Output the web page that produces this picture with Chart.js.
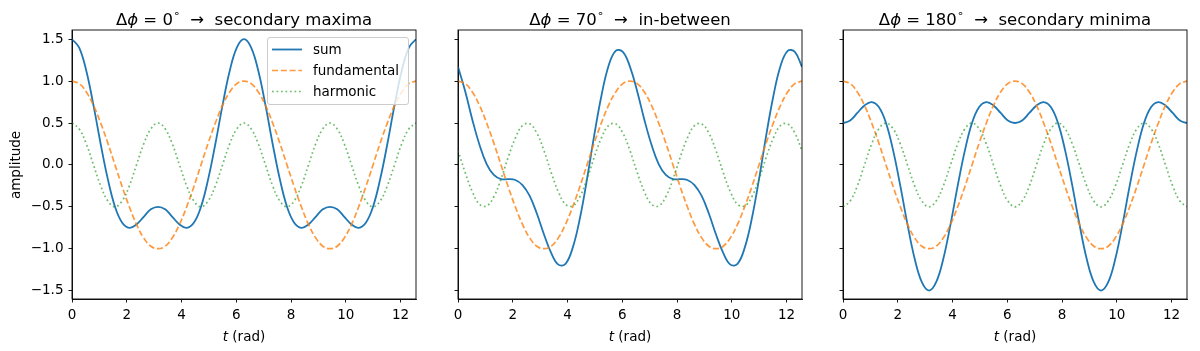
<!DOCTYPE html>
<html>
<head>
<meta charset="utf-8">
<script src="https://cdn.jsdelivr.net/npm/chart.js@4.4.1/dist/chart.umd.min.js"></script>
<style>
  html, body { margin:0; padding:0; background:#fff; }
  #wrap { position:relative; width:1200px; height:351px; overflow:hidden; font-family:"DejaVu Sans", sans-serif; color:#000; }
  #wrap canvas { position:absolute; top:0; }
  .ttl { position:absolute; top:5px; height:20px; line-height:20px; font-size:16.5px; text-align:center; white-space:pre; }
  .ttl sup { font-size:11px; position:relative; top:-1px; }
  .xl { position:absolute; top:328px; height:16px; line-height:16px; font-size:13.5px; text-align:center; white-space:pre; }
  .yl { position:absolute; left:-35px; top:157px; width:100px; height:16px; line-height:16px; font-size:13.5px; text-align:center; transform:rotate(-90deg); }
  .legend { position:absolute; left:267px; top:37px; width:142px; height:68px; box-sizing:border-box;
    border:1px solid #cccccc; border-radius:3px; background:rgba(255,255,255,0.8); font-size:13.5px; }
  .legend .row { position:absolute; left:0; width:140px; height:16px; line-height:16px; white-space:pre; }
  .legend svg { position:absolute; left:3.7px; top:6.5px; }
  .legend span { position:absolute; left:45px; top:0; }
</style>
</head>
<body>
<div id="wrap">
  <canvas id="c0" width="430" height="351" style="left:0px"></canvas>
  <canvas id="c1" width="430" height="351" style="left:386px"></canvas>
  <canvas id="c2" width="430" height="351" style="left:771px"></canvas>

  <div class="ttl" style="left:72px;width:344px">Δ<i>ϕ</i> = 0<sup>∘</sup>  →  secondary maxima</div>
  <div class="ttl" style="left:458px;width:344px">Δ<i>ϕ</i> = 70<sup>∘</sup>  →  in-between</div>
  <div class="ttl" style="left:843px;width:344px">Δ<i>ϕ</i> = 180<sup>∘</sup>  →  secondary minima</div>

  <div class="xl" style="left:72px;width:344px"><i>t</i> (rad)</div>
  <div class="xl" style="left:458px;width:344px"><i>t</i> (rad)</div>
  <div class="xl" style="left:843px;width:344px"><i>t</i> (rad)</div>

  <div class="yl">amplitude</div>

  <div class="legend">
    <div class="row" style="top:3px"><svg width="30" height="3"><line x1="0" y1="1.5" x2="30" y2="1.5" stroke="#1f77b4" stroke-width="1.8"/></svg><span>sum</span></div>
    <div class="row" style="top:24px"><svg width="30" height="3"><line x1="0" y1="1.5" x2="30" y2="1.5" stroke="rgba(255,127,14,0.8)" stroke-width="1.7" stroke-dasharray="6 2.8"/></svg><span>fundamental</span></div>
    <div class="row" style="top:45px"><svg width="30" height="3"><line x1="0" y1="1.5" x2="30" y2="1.5" stroke="rgba(44,160,44,0.7)" stroke-width="1.7" stroke-dasharray="1.7 2.8"/></svg><span>harmonic</span></div>
  </div>
</div>
<script>
// t samples (rad), 0 .. 4π
const tVals = [0, 0.262, 0.524, 0.785, 1.047, 1.309, 1.571, 1.833, 2.094, 2.356, 2.618, 2.880, 3.142,
  3.403, 3.665, 3.927, 4.189, 4.451, 4.712, 4.974, 5.236, 5.498, 5.760, 6.021, 6.283,
  6.545, 6.807, 7.069, 7.330, 7.592, 7.854, 8.116, 8.378, 8.639, 8.901, 9.163, 9.425,
  9.687, 9.948, 10.210, 10.472, 10.734, 10.996, 11.257, 11.519, 11.781, 12.043, 12.305, 12.566];

const fundamental = [1, 0.97, 0.87, 0.71, 0.5, 0.26, 0, -0.26, -0.5, -0.71, -0.87, -0.97, -1,
  -0.97, -0.87, -0.71, -0.5, -0.26, 0, 0.26, 0.5, 0.71, 0.87, 0.97, 1,
  0.97, 0.87, 0.71, 0.5, 0.26, 0, -0.26, -0.5, -0.71, -0.87, -0.97, -1,
  -0.97, -0.87, -0.71, -0.5, -0.26, 0, 0.26, 0.5, 0.71, 0.87, 0.97, 1];

const harm0 = [0.5, 0.43, 0.25, 0, -0.25, -0.43, -0.5, -0.43, -0.25, 0, 0.25, 0.43,
  0.5, 0.43, 0.25, 0, -0.25, -0.43, -0.5, -0.43, -0.25, 0, 0.25, 0.43,
  0.5, 0.43, 0.25, 0, -0.25, -0.43, -0.5, -0.43, -0.25, 0, 0.25, 0.43,
  0.5, 0.43, 0.25, 0, -0.25, -0.43, -0.5, -0.43, -0.25, 0, 0.25, 0.43, 0.5];
const sum0 = [1.5, 1.4, 1.12, 0.71, 0.25, -0.17, -0.5, -0.69, -0.75, -0.71, -0.62, -0.53, -0.5,
  -0.53, -0.62, -0.71, -0.75, -0.69, -0.5, -0.17, 0.25, 0.71, 1.12, 1.4, 1.5,
  1.4, 1.12, 0.71, 0.25, -0.17, -0.5, -0.69, -0.75, -0.71, -0.62, -0.53, -0.5,
  -0.53, -0.62, -0.71, -0.75, -0.69, -0.5, -0.17, 0.25, 0.71, 1.12, 1.4, 1.5];

const harm70 = [0.17, -0.09, -0.32, -0.47, -0.49, -0.38, -0.17, 0.09, 0.32, 0.47, 0.49, 0.38,
  0.17, -0.09, -0.32, -0.47, -0.49, -0.38, -0.17, 0.09, 0.32, 0.47, 0.49, 0.38,
  0.17, -0.09, -0.32, -0.47, -0.49, -0.38, -0.17, 0.09, 0.32, 0.47, 0.49, 0.38,
  0.17, -0.09, -0.32, -0.47, -0.49, -0.38, -0.17, 0.09, 0.32, 0.47, 0.49, 0.38, 0.17];
const sum70 = [1.17, 0.88, 0.54, 0.24, 0.01, -0.12, -0.17, -0.17, -0.18, -0.24, -0.37, -0.58, -0.83,
  -1.05, -1.19, -1.18, -0.99, -0.64, -0.17, 0.35, 0.82, 1.18, 1.36, 1.35, 1.17,
  0.88, 0.54, 0.24, 0.01, -0.12, -0.17, -0.17, -0.18, -0.24, -0.37, -0.58, -0.83,
  -1.05, -1.19, -1.18, -0.99, -0.64, -0.17, 0.35, 0.82, 1.18, 1.36, 1.35, 1.17];

const harm180 = [-0.5, -0.43, -0.25, 0, 0.25, 0.43, 0.5, 0.43, 0.25, 0, -0.25, -0.43,
  -0.5, -0.43, -0.25, 0, 0.25, 0.43, 0.5, 0.43, 0.25, 0, -0.25, -0.43,
  -0.5, -0.43, -0.25, 0, 0.25, 0.43, 0.5, 0.43, 0.25, 0, -0.25, -0.43,
  -0.5, -0.43, -0.25, 0, 0.25, 0.43, 0.5, 0.43, 0.25, 0, -0.25, -0.43, -0.5];
const sum180 = [0.5, 0.53, 0.62, 0.71, 0.75, 0.69, 0.5, 0.17, -0.25, -0.71, -1.12, -1.4, -1.5,
  -1.4, -1.12, -0.71, -0.25, 0.17, 0.5, 0.69, 0.75, 0.71, 0.62, 0.53, 0.5,
  0.53, 0.62, 0.71, 0.75, 0.69, 0.5, 0.17, -0.25, -0.71, -1.12, -1.4, -1.5,
  -1.4, -1.12, -0.71, -0.25, 0.17, 0.5, 0.69, 0.75, 0.71, 0.62, 0.53, 0.5];

const xTicks = [0, 2, 4, 6, 8, 10, 12];
const yTicks = [-1.5, -1.0, -0.5, 0.0, 0.5, 1.0, 1.5];

const panels = [
  { id:"c0", sum: sum0, harm: harm0, yLabels: true },
  { id:"c1", sum: sum70, harm: harm70, yLabels: false },
  { id:"c2", sum: sum180, harm: harm180, yLabels: false }
];

const pts = arr => arr.map((v, i) => ({ x: tVals[i], y: v }));
const fmtY = v => (v < 0 ? "\u2212" : "") + Math.abs(v).toFixed(1);

// axes frame (top + right sides too)
const frame = {
  id: "frame",
  afterDraw(chart){
    const { ctx, chartArea: a } = chart;
    ctx.save();
    ctx.strokeStyle = "#000"; ctx.lineWidth = 0.9;
    ctx.strokeRect(a.left, a.top, a.right - a.left, a.bottom - a.top);
    ctx.restore();
  }
};

panels.forEach(p => {
  new Chart(document.getElementById(p.id), {
    type: "line",
    data: {
      datasets: [
        { label:"harmonic", data: pts(p.harm), borderColor:"rgba(44,160,44,0.7)", borderWidth:1.7, borderDash:[1.7, 2.8] },
        { label:"fundamental", data: pts(fundamental), borderColor:"rgba(255,127,14,0.8)", borderWidth:1.7, borderDash:[6, 2.8] },
        { label:"sum", data: pts(p.sum), borderColor:"#1f77b4", borderWidth:1.8 }
      ]
    },
    options: {
      responsive:false, animation:false,
      elements:{ point:{ radius:0 }, line:{ tension:0.4, fill:false } },
      layout:{ padding:{ top:30, right:14, bottom:0, left:0 } },
      plugins:{ legend:{ display:false }, tooltip:{ enabled:false }, title:{ display:false } },
      scales:{
        x:{
          type:"linear", min:0, max:12.566,
          afterBuildTicks: s => { s.ticks = xTicks.map(v => ({ value:v })); },
          afterFit: s => { s.height = 52; },
          ticks:{ color:"#000", font:{ family:"DejaVu Sans", size:13.5 }, padding:5, maxRotation:0, callback: v => String(v) },
          grid:{ display:true, drawOnChartArea:false, drawTicks:true, tickLength:3.5, color:"#000", lineWidth:0.9 },
          border:{ display:true, color:"#000", width:0.9 }
        },
        y:{
          type:"linear", min:-1.6, max:1.61,
          afterBuildTicks: s => { s.ticks = yTicks.map(v => ({ value:v })); },
          afterFit: s => { s.width = 72; },
          ticks:{ display:p.yLabels, color:"#000", font:{ family:"DejaVu Sans", size:13.5 }, padding:5, callback: v => fmtY(v) },
          grid:{ display:true, drawOnChartArea:false, drawTicks:true, tickLength:3.5, color:"#000", lineWidth:0.9 },
          border:{ display:true, color:"#000", width:0.9 }
        }
      }
    },
    plugins:[frame]
  });
});
</script>
</body>
</html>
